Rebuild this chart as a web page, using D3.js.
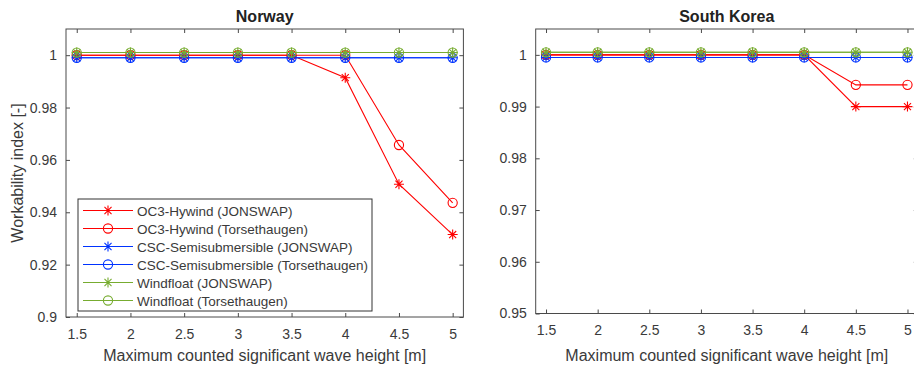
<!DOCTYPE html>
<html>
<head>
<meta charset="utf-8">
<script src="https://cdn.jsdelivr.net/npm/d3@7"></script>
<style>
  body { margin: 0; background: #fff; }
  svg { display: block; font-family: "Liberation Sans", Arial, Helvetica, sans-serif; }
</style>
</head>
<body>
<svg id="chart" width="914" height="369"></svg>
<script>
// ---------- DATA ----------
const waveHeights = [1.5, 2, 2.5, 3, 3.5, 4, 4.5, 5];
const xTickValues = [1.5, 2, 2.5, 3, 3.5, 4, 4.5, 5];
const xTickLabels = ["1.5", "2", "2.5", "3", "3.5", "4", "4.5", "5"];

const norwayYTicks = [0.9, 0.92, 0.94, 0.96, 0.98, 1];
const norwayYTickLabels = ["0.9", "0.92", "0.94", "0.96", "0.98", "1"];
const koreaYTicks = [0.95, 0.96, 0.97, 0.98, 0.99, 1];
const koreaYTickLabels = ["0.95", "0.96", "0.97", "0.98", "0.99", "1"];

const seriesNames = [
  "OC3-Hywind (JONSWAP)",
  "OC3-Hywind (Torsethaugen)",
  "CSC-Semisubmersible (JONSWAP)",
  "CSC-Semisubmersible (Torsethaugen)",
  "Windfloat (JONSWAP)",
  "Windfloat (Torsethaugen)"
];
const seriesColors = ["#ff0000", "#ff0000", "#0033ff", "#0033ff", "#77ac30", "#77ac30"];
const seriesMarkers = ["star", "circle", "star", "circle", "star", "circle"];

// Norway (values as drawn)
const norwayOC3Jonswap = [1, 1, 1, 1, 1, 0.9914, 0.9507, 0.9315];
const norwayOC3Torset  = [1, 1, 1, 1, 1, 1, 0.9657, 0.9436];
const norwayCSCJonswap = [0.999, 0.999, 0.999, 0.999, 0.999, 0.999, 0.999, 0.999];
const norwayCSCTorset  = [0.999, 0.999, 0.999, 0.999, 0.999, 0.999, 0.999, 0.999];
const norwayWFJonswap  = [1.001, 1.001, 1.001, 1.001, 1.001, 1.001, 1.001, 1.001];
const norwayWFTorset   = [1.001, 1.001, 1.001, 1.001, 1.001, 1.001, 1.001, 1.001];

// South Korea (values as drawn)
const koreaOC3Jonswap = [1, 1, 1, 1, 1, 1, 0.990, 0.990];
const koreaOC3Torset  = [1, 1, 1, 1, 1, 1, 0.9942, 0.9942];
const koreaCSCJonswap = [0.9995, 0.9995, 0.9995, 0.9995, 0.9995, 0.9995, 0.9995, 0.9995];
const koreaCSCTorset  = [0.9995, 0.9995, 0.9995, 0.9995, 0.9995, 0.9995, 0.9995, 0.9995];
const koreaWFJonswap  = [1.0005, 1.0005, 1.0005, 1.0005, 1.0005, 1.0005, 1.0005, 1.0005];
const koreaWFTorset   = [1.0005, 1.0005, 1.0005, 1.0005, 1.0005, 1.0005, 1.0005, 1.0005];

// ---------- LAYOUT ----------
const svg = d3.select("#chart");
const axisColor = "#4a4a4a";
const textColor = "#3a3a3a";

const panels = [
  {
    title: "Norway",
    left: 66, right: 463.4, top: 29, bottom: 317,
    xDomain: [1.4, 5.1], yDomain: [0.9, 1.01],
    yTicks: norwayYTicks, yTickLabels: norwayYTickLabels,
    data: [norwayOC3Jonswap, norwayOC3Torset, norwayCSCJonswap, norwayCSCTorset, norwayWFJonswap, norwayWFTorset],
    ylabel: true, legend: true
  },
  {
    title: "South Korea",
    left: 535.7, right: 917.8, top: 29, bottom: 313.5,
    xDomain: [1.4, 5.1], yDomain: [0.95, 1.005],
    yTicks: koreaYTicks, yTickLabels: koreaYTickLabels,
    data: [koreaOC3Jonswap, koreaOC3Torset, koreaCSCJonswap, koreaCSCTorset, koreaWFJonswap, koreaWFTorset],
    ylabel: false, legend: false
  }
];

function starPath(s) {
  const d = s * 0.7071;
  return `M0,${-s}L0,${s}M${-s},0L${s},0M${-d},${-d}L${d},${d}M${-d},${d}L${d},${-d}`;
}

function drawMarker(g, type, cx, cy, color) {
  if (type === "star") {
    g.append("path").attr("d", starPath(5)).attr("transform", `translate(${cx},${cy})`)
      .attr("fill", "none").attr("stroke", color).attr("stroke-width", 1.1);
  } else {
    g.append("circle").attr("cx", cx).attr("cy", cy).attr("r", 4.6)
      .attr("fill", "none").attr("stroke", color).attr("stroke-width", 1.1);
  }
}

panels.forEach(p => {
  const x = d3.scaleLinear().domain(p.xDomain).range([p.left, p.right]);
  const y = d3.scaleLinear().domain(p.yDomain).range([p.bottom, p.top]);
  const g = svg.append("g");

  // box
  g.append("rect").attr("x", p.left).attr("y", p.top)
    .attr("width", p.right - p.left).attr("height", p.bottom - p.top)
    .attr("fill", "none").attr("stroke", axisColor).attr("stroke-width", 1);

  // axes with inward ticks
  const xAxisB = d3.axisBottom(x).tickValues(xTickValues).tickSizeInner(-4).tickSizeOuter(0)
    .tickFormat((d, i) => xTickLabels[i]).tickPadding(12);
  const gx = g.append("g").attr("transform", `translate(0,${p.bottom})`).call(xAxisB);
  const xAxisT = d3.axisTop(x).tickValues(xTickValues).tickSizeInner(-4).tickSizeOuter(0).tickFormat("");
  const gxt = g.append("g").attr("transform", `translate(0,${p.top})`).call(xAxisT);
  const yAxisL = d3.axisLeft(y).tickValues(p.yTicks).tickSizeInner(-4).tickSizeOuter(0)
    .tickFormat((d, i) => p.yTickLabels[i]).tickPadding(9);
  const gy = g.append("g").attr("transform", `translate(${p.left},0)`).call(yAxisL);
  const yAxisR = d3.axisRight(y).tickValues(p.yTicks).tickSizeInner(-4).tickSizeOuter(0).tickFormat("");
  const gyr = g.append("g").attr("transform", `translate(${p.right},0)`).call(yAxisR);

  [gx, gxt, gy, gyr].forEach(a => {
    a.select(".domain").remove();
    a.selectAll(".tick line").attr("stroke", axisColor);
    a.selectAll(".tick text").attr("fill", textColor).style("font-size", "14px")
      .style("font-family", '"Liberation Sans", Arial, sans-serif');
  });

  // series lines
  const line = d3.line().x((d, i) => x(waveHeights[i])).y(d => y(d));
  p.data.forEach((vals, si) => {
    g.append("path").datum(vals).attr("d", line)
      .attr("fill", "none").attr("stroke", seriesColors[si]).attr("stroke-width", 1.1);
  });
  // markers
  p.data.forEach((vals, si) => {
    vals.forEach((v, i) => drawMarker(g, seriesMarkers[si], x(waveHeights[i]), y(v), seriesColors[si]));
  });

  // title
  g.append("text").attr("x", (p.left + p.right) / 2).attr("y", 22)
    .attr("text-anchor", "middle").attr("font-weight", "bold").attr("font-size", 16)
    .attr("fill", "#222").text(p.title);

  // x label
  g.append("text").attr("x", (p.left + p.right) / 2).attr("y", 361)
    .attr("text-anchor", "middle").attr("font-size", 16).attr("fill", textColor)
    .text("Maximum counted significant wave height [m]");

  if (p.ylabel) {
    g.append("text").attr("transform", `translate(23,${(p.top + p.bottom) / 2}) rotate(-90)`)
      .attr("text-anchor", "middle").attr("font-size", 16).attr("fill", textColor)
      .text("Workability index [-]");
  }

  if (p.legend) {
    const lg = g.append("g");
    const lx = 78, ly = 199, lw = 294, lh = 112;
    lg.append("rect").attr("x", lx).attr("y", ly).attr("width", lw).attr("height", lh)
      .attr("fill", "#fff").attr("stroke", "#333").attr("stroke-width", 1);
    seriesNames.forEach((name, i) => {
      const ry = 210.5 + i * 18;
      lg.append("line").attr("x1", 83).attr("x2", 133).attr("y1", ry).attr("y2", ry)
        .attr("stroke", seriesColors[i]).attr("stroke-width", 1.1);
      drawMarker(lg, seriesMarkers[i], 108, ry, seriesColors[i]);
      lg.append("text").attr("x", 137).attr("y", ry + 5).attr("font-size", 13.5)
        .attr("fill", textColor).text(name);
    });
  }
});
</script>
</body>
</html>
